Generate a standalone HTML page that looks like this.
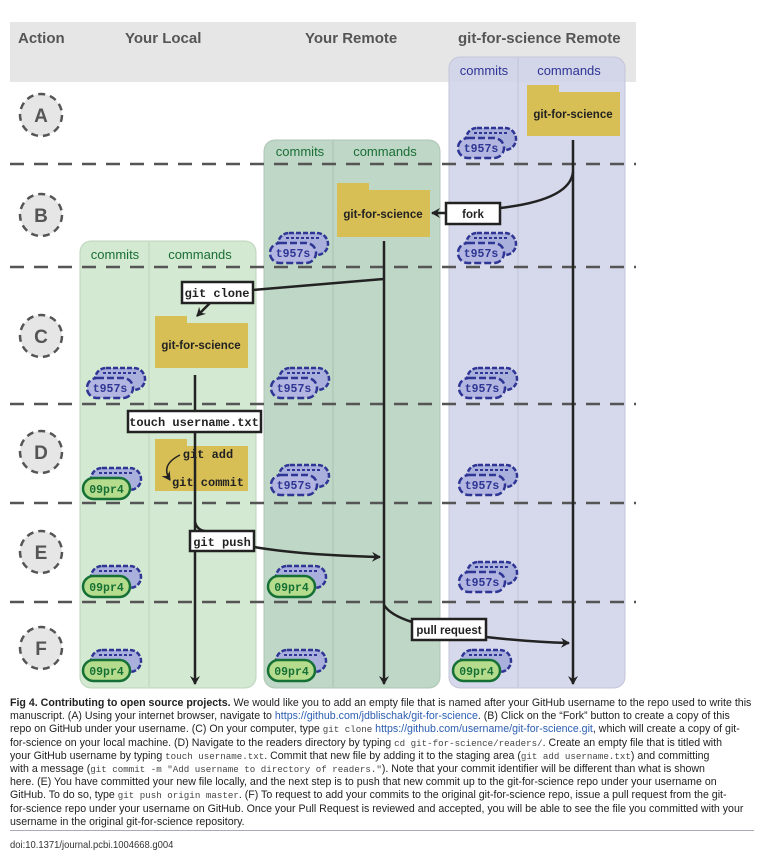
<!DOCTYPE html>
<html><head><meta charset="utf-8"><style>
body{margin:0;background:#fff;width:764px;height:859px;overflow:hidden;position:relative}
.cap{position:absolute;left:10px;top:697px;width:820px;font-family:"Liberation Sans",sans-serif;font-size:11px;line-height:13.2px;color:#222;white-space:nowrap;transform:scaleX(0.965);transform-origin:0 0}
.cap a{color:#2a5db0;text-decoration:none}
.cap code{font-family:"Liberation Mono",monospace;font-size:9.5px;color:#444}
.rule{position:absolute;left:10px;top:830px;width:744px;height:1px;background:#aab}
.doi{position:absolute;left:10px;top:839px;font-family:"Liberation Sans",sans-serif;font-size:10.5px;color:#333;transform:scaleX(0.9);transform-origin:0 0}
</style></head><body>
<svg width="764" height="695" style="position:absolute;left:0;top:0" font-family="Liberation Sans, sans-serif">
<defs>
<marker id="ar" markerWidth="10" markerHeight="10" refX="8" refY="5" orient="auto" markerUnits="userSpaceOnUse"><path d="M0,0 L9,5 L0,10 L3,5z" fill="#222"/></marker>
<g id="bk"><rect x="8" y="-10" width="50" height="22" rx="11" fill="#aab0dc" stroke="#2e3594" stroke-width="2.5" stroke-dasharray="5,2"/><path d="M16,-5 h34" stroke="#2e3594" stroke-width="2" stroke-dasharray="3,2"/></g>
<g id="tf"><use href="#bk"/><rect x="0" y="0" width="46" height="20" rx="10" fill="#b2b6e0" stroke="#2e3594" stroke-width="2.5" stroke-dasharray="7,3"/></g>
<g id="gf"><use href="#bk"/><rect x="0" y="0" width="47" height="21" rx="10.5" fill="#b5dc8d" stroke="#157035" stroke-width="2.5"/></g>
</defs>
<rect x="10" y="22" width="626" height="60" fill="#e6e6e6"/>
<g font-weight="bold" font-size="15" fill="#555">
<text x="18" y="43">Action</text><text x="125" y="43">Your Local</text><text x="305" y="43">Your Remote</text><text x="458" y="43">git-for-science Remote</text></g>
<rect x="449" y="57" width="176" height="631" rx="11" fill="#cfd1e8" fill-opacity="0.85" stroke="#c4c5d8"/>
<line x1="518" y1="58" x2="518" y2="687" stroke="#c0c2d6"/>
<rect x="264" y="140" width="176" height="548" rx="11" fill="#bed7c6" stroke="#aec6b4"/>
<line x1="333" y1="141" x2="333" y2="687" stroke="#a9c1b0"/>
<rect x="80" y="241" width="176" height="447" rx="11" fill="#d3e9d1" stroke="#bcd5bc"/>
<line x1="149" y1="242" x2="149" y2="687" stroke="#bcd3bb"/>
<g font-size="13" text-anchor="middle">
<text x="484" y="75" fill="#2e3594">commits</text><text x="569" y="75" fill="#2e3594">commands</text>
<text x="300" y="156" fill="#1a6e35">commits</text><text x="385" y="156" fill="#1a6e35">commands</text>
<text x="115" y="259" fill="#1a6e35">commits</text><text x="200" y="259" fill="#1a6e35">commands</text></g>
<g stroke="#555" stroke-width="2.5" stroke-dasharray="14,10">
<line x1="10" y1="164" x2="636" y2="164"/><line x1="10" y1="267" x2="636" y2="267"/><line x1="10" y1="404" x2="636" y2="404"/><line x1="10" y1="503" x2="636" y2="503"/><line x1="10" y1="602" x2="636" y2="602"/></g>
<g fill="#e6e6e6" stroke="#555" stroke-width="2.5" stroke-dasharray="7,5">
<circle cx="41" cy="115" r="21"/><circle cx="41" cy="215" r="21"/><circle cx="41" cy="336" r="21"/><circle cx="41" cy="452" r="21"/><circle cx="41" cy="552" r="21"/><circle cx="41" cy="648" r="21"/></g>
<g font-weight="bold" font-size="19" fill="#555" text-anchor="middle">
<text x="41" y="122">A</text><text x="41" y="222">B</text><text x="41" y="343">C</text><text x="41" y="459">D</text><text x="41" y="559">E</text><text x="41" y="655">F</text></g>
<g fill="#d8bf55">
<path d="M527,85h32v7h61v44h-93z"/><path d="M337,183h32v7h61v47h-93z"/><path d="M155,316h32v7h61v45h-93z"/><path d="M155,439h32v7h61v45h-93z"/></g>
<g font-weight="bold" font-size="11.5" fill="#222" text-anchor="middle">
<text x="573" y="118">git-for-science</text><text x="383" y="218">git-for-science</text><text x="201" y="349">git-for-science</text></g>
<g stroke="#222" stroke-width="2.5" fill="none">
<line x1="573" y1="140" x2="573" y2="684" marker-end="url(#ar)"/>
<line x1="384" y1="241" x2="384" y2="684" marker-end="url(#ar)"/>
<line x1="195" y1="375" x2="195" y2="684" marker-end="url(#ar)"/>
<path d="M573,172 Q570,200 500,208"/><path d="M446,213 L432,213" marker-end="url(#ar)"/>
<path d="M384,279 L253,290"/><path d="M210,303 L197,316" marker-end="url(#ar)"/>
<path d="M195,522 Q197,530 205,531"/><path d="M254,547 Q300,555 380,557" marker-end="url(#ar)"/>
<path d="M384,605 Q390,615 412,622"/><path d="M486,637 Q530,642 569,643" marker-end="url(#ar)"/>
<path d="M180,455 Q160,465 170,480" stroke-width="1.5" marker-end="url(#ar)"/>
</g>
<g fill="#fff" stroke="#222" stroke-width="2.5">
<rect x="446" y="203" width="54" height="21"/><rect x="182" y="282" width="71" height="21"/><rect x="128" y="411" width="133" height="21"/><rect x="190" y="531" width="64" height="20"/><rect x="412" y="619" width="74" height="21"/></g>
<g font-family="Liberation Mono, monospace" font-weight="bold" font-size="12" fill="#222" text-anchor="middle">
<text x="217" y="297">git clone</text><text x="194" y="426">touch username.txt</text><text x="222" y="546">git push</text>
<text x="208" y="458">git add</text><text x="208" y="486">git commit</text></g>
<g font-weight="bold" font-size="11.5" fill="#222" text-anchor="middle"><text x="473" y="218">fork</text><text x="449" y="634">pull request</text></g>
<use href="#tf" x="458" y="138"/><use href="#tf" x="458" y="243"/><use href="#tf" x="270" y="243"/>
<use href="#tf" x="87" y="378"/><use href="#tf" x="271" y="378"/><use href="#tf" x="459" y="378"/>
<use href="#tf" x="271" y="475"/><use href="#tf" x="459" y="475"/><use href="#tf" x="459" y="572"/>
<use href="#gf" x="83" y="478"/><use href="#gf" x="83" y="576"/><use href="#gf" x="268" y="576"/>
<use href="#gf" x="83" y="660"/><use href="#gf" x="268" y="660"/><use href="#gf" x="453" y="660"/>
<g font-family="Liberation Mono, monospace" font-weight="bold" font-size="11.5" text-anchor="middle" fill="#2e3594">
<text x="481" y="152">t957s</text><text x="481" y="257">t957s</text><text x="293" y="257">t957s</text>
<text x="110" y="392">t957s</text><text x="294" y="392">t957s</text><text x="482" y="392">t957s</text>
<text x="294" y="489">t957s</text><text x="482" y="489">t957s</text><text x="482" y="586">t957s</text></g>
<g font-family="Liberation Mono, monospace" font-weight="bold" font-size="11.5" text-anchor="middle" fill="#157035">
<text x="106.5" y="493">09pr4</text><text x="106.5" y="591">09pr4</text><text x="291.5" y="591">09pr4</text>
<text x="106.5" y="675">09pr4</text><text x="291.5" y="675">09pr4</text><text x="476.5" y="675">09pr4</text></g>
</svg>
<div class="cap"><b>Fig 4. Contributing to open source projects.</b> We would like you to add an empty file that is named after your GitHub username to the repo used to write this<br>manuscript. (A) Using your internet browser, navigate to <a>https://github.com/jdblischak/git-for-science</a>. (B) Click on the “Fork” button to create a copy of this<br>repo on GitHub under your username. (C) On your computer, type <code>git clone</code> <a>https://github.com/username/git-for-science.git</a>, which will create a copy of git-<br>for-science on your local machine. (D) Navigate to the readers directory by typing <code>cd git-for-science/readers/</code>. Create an empty file that is titled with<br>your GitHub username by typing <code>touch username.txt</code>. Commit that new file by adding it to the staging area (<code>git add username.txt</code>) and committing<br>with a message (<code>git commit -m "Add username to directory of readers."</code>). Note that your commit identifier will be different than what is shown<br>here. (E) You have committed your new file locally, and the next step is to push that new commit up to the git-for-science repo under your username on<br>GitHub. To do so, type <code>git push origin master</code>. (F) To request to add your commits to the original git-for-science repo, issue a pull request from the git-<br>for-science repo under your username on GitHub. Once your Pull Request is reviewed and accepted, you will be able to see the file you committed with your<br>username in the original git-for-science repository.</div>
<div class="rule"></div>
<div class="doi">doi:10.1371/journal.pcbi.1004668.g004</div>
</body></html>
